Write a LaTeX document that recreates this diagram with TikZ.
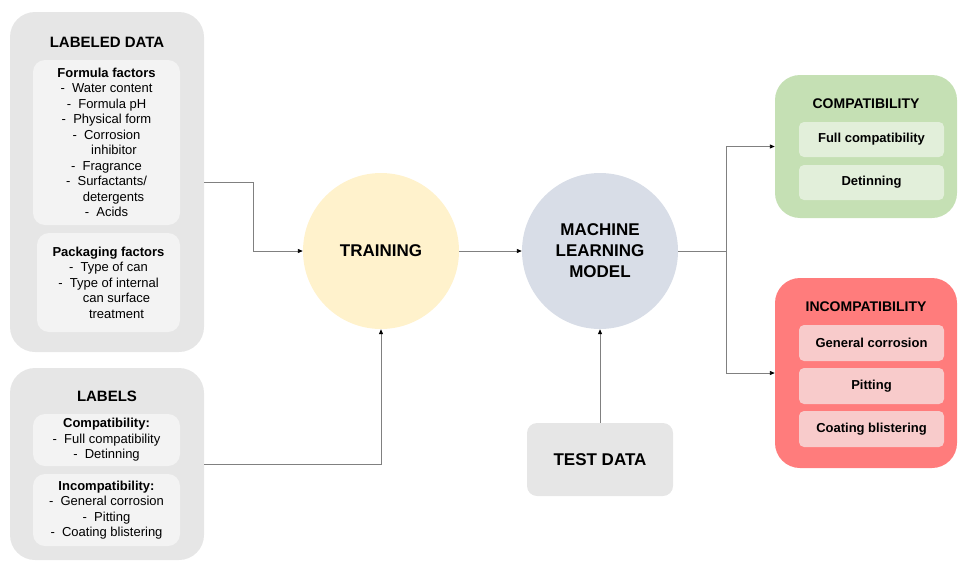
\documentclass[tikz,border=0pt]{standalone}
\usepackage{fontspec}
\setmainfont{Liberation Sans}
\usetikzlibrary{arrows.meta,positioning}
\definecolor{boxgray}{HTML}{E6E6E6}
\definecolor{panelgray}{HTML}{F3F3F3}
\definecolor{trainfill}{HTML}{FFF2CC}
\definecolor{modelfill}{HTML}{D8DDE7}
\definecolor{okgreen}{HTML}{C5E0B4}
\definecolor{oklight}{HTML}{E2EFDA}
\definecolor{badred}{HTML}{FF7C7C}
\definecolor{badlight}{HTML}{F8CBCB}
\definecolor{wire}{HTML}{808080}

\begin{document}
\begin{tikzpicture}[x=1pt, y=-1pt]
      \tikzstyle{point} = [coordinate]
      \tikzstyle{outer} = [rectangle, rounded corners=25pt, fill=boxgray, inner sep=0pt]
      \tikzstyle{panel} = [rectangle, rounded corners=12pt, fill=panelgray, inner sep=0pt, align=center, font=\fontsize{13}{15.5}\selectfont]
      \tikzstyle{head} = [font=\fontsize{15}{18}\selectfont\bfseries]
      \tikzstyle{big} = [align=center, font=\fontsize{17}{21}\selectfont\bfseries]
      \tikzstyle{result} = [rectangle, rounded corners=25pt, inner sep=0pt, minimum width=182pt]
      \tikzstyle{item} = [rectangle, rounded corners=5pt, inner sep=0pt, minimum width=145pt, minimum height=35pt, font=\fontsize{13}{15.5}\selectfont\bfseries]
      \tikzstyle{line} = [draw=wire, line width=0.9pt, -{Triangle[length=5pt, width=4pt, black]}]
      \useasboundingbox (0,0) rectangle (958,562);
      % labeled data
      \node (data) [outer, minimum width=194pt, minimum height=340pt] at (107,182) {};
      \node (datahead) [head] at (107,42) {LABELED DATA};
      \node (formula) [panel, minimum width=147pt, minimum height=165pt] at (106.5,142.5) {\textbf{Formula factors}\\
        -\ \ Water content\\
        -\ \ Formula pH\\
        -\ \ Physical form\\
        -\ \ Corrosion\\
        \hspace*{15pt}inhibitor\\
        -\ \ Fragrance\\
        -\ \ Surfactants/\\
        \hspace*{14pt}detergents\\
        -\ \ Acids};
      \node (packaging) [panel, minimum width=143pt, minimum height=99pt] at (108.5,282.5) {\textbf{Packaging factors}\\
        -\ \ Type of can\\
        -\ \ Type of internal\\
        \hspace*{16pt}can surface\\
        \hspace*{16pt}treatment};
      % labels
      \node (labels) [outer, minimum width=194pt, minimum height=192pt] at (107,464) {};
      \node (labelshead) [head] at (107,396) {LABELS};
      \node (compatlist) [panel, minimum width=147pt, minimum height=52pt] at (106.5,440) {\textbf{Compatibility:}\\
        -\ \ Full compatibility\\
        -\ \ Detinning};
      \node (incompatlist) [panel, minimum width=147pt, minimum height=72pt] at (106.5,510) {\textbf{Incompatibility:}\\
        -\ \ General corrosion\\
        -\ \ Pitting\\
        -\ \ Coating blistering};
      % training and model
      \node (train) [circle, fill=trainfill, minimum size=156pt, big] at (381,251) {TRAINING};
      \node (model) [circle, fill=modelfill, minimum size=156pt, big] at (600,251) {MACHINE\\LEARNING\\MODEL};
      \node (test) [rectangle, rounded corners=10pt, fill=boxgray, minimum width=146pt, minimum height=73pt, big] at (600,459.5) {TEST DATA};
      % outcomes
      \node (compat) [result, fill=okgreen, minimum height=143pt] at (866,146.5) {};
      \node (compathead) [head, font=\fontsize{14}{17}\selectfont\bfseries] at (866,104) {COMPATIBILITY};
      \node (full) [item, fill=oklight] at (871.5,139.5) {Full compatibility};
      \node (detin) [item, fill=oklight] at (871.5,182.5) {Detinning};
      \node (incompat) [result, fill=badred, minimum height=190pt] at (866,373) {};
      \node (incompathead) [head, font=\fontsize{14}{17}\selectfont\bfseries] at (866,307) {INCOMPATIBILITY};
      \node (corr) [item, fill=badlight, minimum height=36pt] at (871.5,343) {General corrosion};
      \node (pit) [item, fill=badlight, minimum height=36pt] at (871.5,386) {Pitting};
      \node (blist) [item, fill=badlight, minimum height=36pt] at (871.5,429) {Coating blistering};
      % connectors
      \node (p1) [point] at (253.5,182) {};
      \node (p2) [point] at (726,251) {};
      \draw [line] (data.east)--(p1) |- (train.west);
      \draw [line] (labels.east) -| (train.south);
      \draw [line] (train)--(model);
      \draw [line] (test)--(model);
      \draw [draw=wire, line width=0.9pt] (model.east)--(p2);
      \draw [line] (p2) |- (compat.west);
      \draw [line] (p2) |- (incompat.west);
\end{tikzpicture}
\end{document}
